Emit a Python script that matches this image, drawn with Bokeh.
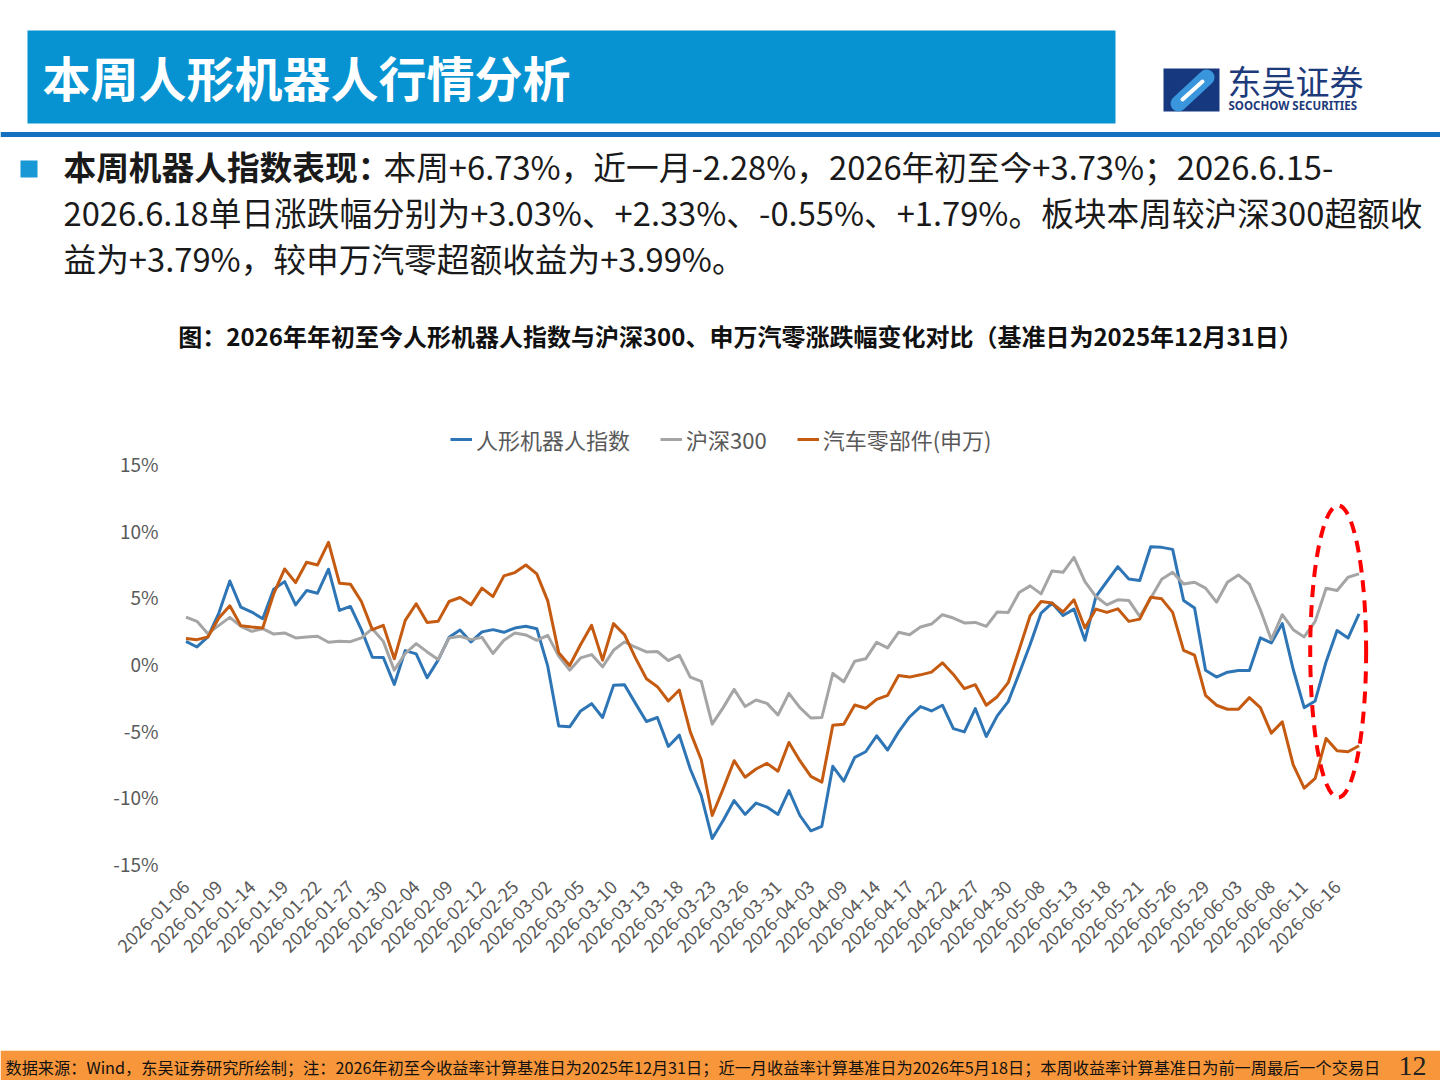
import math

from bokeh.plotting import figure
from bokeh.layouts import column
from bokeh.models import Range1d, FixedTicker, PrintfTickFormatter, Legend, LegendItem
from bokeh.core.properties import value
from bokeh.embed import file_html
from bokeh.resources import INLINE

CJK = "Noto Sans CJK SC"

# Trading days of 2026 shown on the category axis (month -> days)
trading_days = {
    1: [6, 7, 8, 9, 12, 13, 14, 15, 16, 19, 20, 21, 22, 23, 26, 27, 28, 29, 30],
    2: [2, 3, 4, 5, 6, 9, 10, 11, 12, 13, 24, 25, 26, 27],
    3: [2, 3, 4, 5, 6, 9, 10, 11, 12, 13, 16, 17, 18, 19, 20, 23, 24, 25, 26, 27, 30, 31],
    4: [1, 2, 3, 7, 8, 9, 10, 13, 14, 15, 16, 17, 20, 21, 22, 23, 24, 27, 28, 29, 30],
    5: [6, 7, 8, 11, 12, 13, 14, 15, 18, 19, 20, 21, 22, 25, 26, 27, 28, 29],
    6: [1, 2, 3, 4, 5, 8, 9, 10, 11, 12, 15, 16, 17, 18],
}
dates = [f"2026-{m:02d}-{d:02d}" for m, days in trading_days.items() for d in days]

# Cumulative change since 2025-12-31, in percent
robot_index = [
    1.66, 1.24, 1.99, 3.78, 6.19, 4.23, 3.86, 3.36, 5.57, 6.14,
    4.40, 5.47, 5.27, 7.07, 3.98, 4.28, 2.54, 0.47, 0.45, -1.57,
    0.97, 0.72, -1.07, 0.25, 1.96, 2.51, 1.62, 2.37, 2.54, 2.34,
    2.66, 2.79, 2.61, -0.20, -4.68, -4.75, -3.56, -3.01, -4.05, -1.64,
    -1.59, -2.99, -4.35, -4.05, -6.22, -5.37, -7.91, -9.90, -13.13, -11.77,
    -10.28, -11.32, -10.47, -10.77, -11.32, -9.53, -11.40, -12.55, -12.21, -7.71,
    -8.83, -7.04, -6.62, -5.42, -6.49, -5.13, -4.01, -3.23, -3.56, -3.13,
    -4.88, -5.13, -3.38, -5.47, -3.93, -2.86, -0.75, 1.42, 3.78, 4.53,
    3.60, 4.08, 1.74, 5.02, 6.15, 7.26, 6.34, 6.22, 8.76, 8.71,
    8.56, 4.73, 4.16, -0.50, -1.02, -0.65, -0.52, -0.52, 1.92, 1.54,
    2.99, -0.45, -3.31, -2.81, 0.14, 2.47, 1.91, 3.73,
]
hs300 = [
    3.48, 3.16, 2.24, 2.86, 3.46, 2.79, 2.41, 2.61, 2.21, 2.29,
    1.92, 1.99, 2.04, 1.59, 1.66, 1.64, 1.92, 2.61, 1.66, -0.50,
    0.75, 1.49, 0.87, 0.30, 1.92, 2.04, 1.79, 1.96, 0.75, 1.74,
    2.29, 2.14, 1.74, 2.11, 0.55, -0.50, 0.42, 0.67, -0.25, 0.99,
    1.62, 1.22, 0.87, 0.90, 0.22, 0.62, -1.02, -1.34, -4.55, -3.31,
    -1.94, -3.23, -2.74, -2.99, -3.86, -2.24, -3.31, -4.09, -4.05, -0.75,
    -1.37, 0.17, 0.35, 1.59, 1.17, 2.34, 2.16, 2.74, 2.96, 3.66,
    3.41, 3.04, 3.08, 2.79, 3.86, 3.83, 5.32, 5.82, 5.22, 6.94,
    6.84, 7.96, 6.14, 5.02, 4.40, 4.78, 4.73, 3.53, 4.90, 6.32,
    6.84, 5.97, 6.09, 5.65, 4.60, 6.09, 6.64, 5.95, 4.03, 1.79,
    3.66, 2.54, 1.99, 3.16, 5.65, 5.47, 6.47, 6.72,
]
auto_parts = [
    1.87, 1.79, 1.99, 3.41, 4.33, 2.84, 2.74, 2.66, 5.22, 7.09,
    6.07, 7.59, 7.39, 9.08, 6.02, 5.95, 4.65, 2.54, 2.86, 0.35,
    3.23, 4.48, 3.08, 3.16, 4.65, 4.95, 4.40, 5.65, 5.02, 6.57,
    6.82, 7.39, 6.72, 4.70, 0.80, -0.15, 1.42, 2.86, 0.25, 2.99,
    2.16, 0.42, -1.14, -1.74, -2.81, -1.99, -5.13, -7.22, -11.40, -9.40,
    -7.29, -8.53, -7.91, -7.49, -8.08, -5.92, -7.29, -8.47, -8.90, -4.63,
    -4.55, -3.11, -3.36, -2.69, -2.39, -0.90, -1.02, -0.85, -0.65, 0.05,
    -0.82, -1.89, -1.59, -3.13, -2.49, -1.44, 1.04, 3.58, 4.65, 4.53,
    3.86, 4.78, 2.66, 4.08, 3.83, 4.10, 3.16, 3.33, 4.97, 4.85,
    3.83, 0.99, 0.62, -2.39, -3.13, -3.43, -3.43, -2.56, -3.31, -5.22,
    -4.38, -7.61, -9.35, -8.61, -5.62, -6.54, -6.62, -6.17,
]
series_names = ["人形机器人指数", "沪深300", "汽车零部件(申万)"]
y_ticks = [-15, -10, -5, 0, 5, 10, 15]
label_step = 3

page_title = "本周人形机器人行情分析"
bullet_head = "本周机器人指数表现："
bullet_lines = [
    "本周+6.73%，近一月-2.28%，2026年初至今+3.73%；2026.6.15-",
    "2026.6.18单日涨跌幅分别为+3.03%、+2.33%、-0.55%、+1.79%。板块本周较沪深300超额收",
    "益为+3.79%，较申万汽零超额收益为+3.99%。",
]
chart_title = "图：2026年年初至今人形机器人指数与沪深300、申万汽零涨跌幅变化对比（基准日为2025年12月31日）"
footnote = ("数据来源：Wind，东吴证券研究所绘制；注：2026年初至今收益率计算基准日为2025年12月31日；"
            "近一月收益率计算基准日为2026年5月18日；本周收益率计算基准日为前一周最后一个交易日")
page_no = "12"


def canvas(h):
    f = figure(width=1440, height=h, x_range=Range1d(0, 1440), y_range=Range1d(h, 0),
               toolbar_location=None, output_backend="svg", x_axis_type=None, y_axis_type=None,
               min_border=0, outline_line_color=None, title=None, frame_align=False)
    f.xgrid.visible = False
    f.ygrid.visible = False
    return f


def put_text(f, x, y, s, size, color, bold=False, font=CJK, align="left"):
    f.text(x=[x], y=[y], text=[s], text_font=value(font), text_font_size=size,
           text_font_style="bold" if bold else "normal", text_color=color,
           text_align=align, text_baseline="middle")


# ---- header: banner, logo, summary paragraph, chart caption ----
top = canvas(365)
top.quad(left=[27], right=[1115], top=[30], bottom=[123], fill_color="#0793D2", line_color=None)
put_text(top, 42, 75, page_title, "48px", "#FFFFFF", bold=True)

# logo mark
top.quad(left=[1163], right=[1219], top=[68], bottom=[111], fill_color="#16387E", line_color=None)
top.line([1178, 1206], [103, 77], line_color="#3A96DC", line_width=16, line_cap="round")
top.line([1182, 1202], [99, 81], line_color="#FFFFFF", line_width=4, line_cap="round")
put_text(top, 1227, 80, "东吴证券", "34px", "#1D3A7A")
put_text(top, 1228, 105, "SOOCHOW SECURITIES", "11.5px", "#1D3A7A", bold=True, font="Noto Sans")

top.quad(left=[0], right=[1440], top=[131.5], bottom=[136.5], fill_color="#1570BF", line_color=None)

top.quad(left=[20], right=[37], top=[160], bottom=[177], fill_color="#1898D5", line_color=None)
put_text(top, 63, 165, bullet_head, "32.7px", "#1A1A1A", bold=True)
put_text(top, 383, 165, bullet_lines[0], "32.7px", "#1A1A1A")
put_text(top, 63, 211, bullet_lines[1], "32.7px", "#1A1A1A")
put_text(top, 63, 257, bullet_lines[2], "32.7px", "#1A1A1A")

put_text(top, 740, 335, chart_title, "24px", "#111111", bold=True, align="center")

# ---- line chart ----
xs = list(range(len(dates)))
pc = figure(width=1440, height=685, x_range=Range1d(-0.5, len(dates) + 0.96),
            y_range=Range1d(-15, 20.1), toolbar_location=None, output_backend="svg",
            min_border_left=180, min_border_right=60, min_border_top=30, min_border_bottom=187,
            outline_line_color=None, title=None, frame_align=False)
pc.xgrid.visible = False
pc.ygrid.visible = False

r_robot = pc.line(xs, robot_index, line_color="#2E75B6", line_width=3, line_join="round")
r_hs = pc.line(xs, hs300, line_color="#A5A5A5", line_width=3, line_join="round")
r_auto = pc.line(xs, auto_parts, line_color="#C55A11", line_width=3, line_join="round")

# highlight of the latest week
pc.ellipse(x=[105.1], y=[0.9], width=[5.1], height=[21.9], fill_color=None,
           line_color="#FF0000", line_width=4, line_dash="12 8")

label_ticks = list(range(0, len(dates), label_step))
xa = pc.xaxis[0]
xa.ticker = FixedTicker(ticks=label_ticks)
xa.major_label_overrides = {i: dates[i] for i in label_ticks}
xa.major_label_orientation = math.pi / 4
xa.major_label_standoff = 20

ya = pc.yaxis[0]
ya.ticker = FixedTicker(ticks=y_ticks)
ya.formatter = PrintfTickFormatter(format="%d%%")
ya.major_label_standoff = 22

for ax, size in ((xa, "18px"), (ya, "19px")):
    ax.axis_line_color = None
    ax.major_tick_line_color = None
    ax.minor_tick_line_color = None
    ax.major_tick_out = 0
    ax.major_tick_in = 0
    ax.major_label_text_color = "#595959"
    ax.major_label_text_font = CJK
    ax.major_label_text_font_size = size

legend = Legend(
    items=[LegendItem(label=series_names[0], renderers=[r_robot]),
           LegendItem(label=series_names[1], renderers=[r_hs]),
           LegendItem(label=series_names[2], renderers=[r_auto])],
    orientation="horizontal", location=(270, 408), margin=0, padding=4, spacing=30,
    glyph_width=22, glyph_height=20, label_standoff=4,
    label_text_font=CJK, label_text_font_size="22px", label_text_color="#595959",
    border_line_color=None, background_fill_alpha=0,
)
pc.add_layout(legend)

# ---- footer band ----
foot = canvas(30)
foot.quad(left=[0], right=[1440], top=[0], bottom=[30], fill_color="#F7963A", line_color=None)
put_text(foot, 5, 16, footnote, "16.2px", "#111111")
put_text(foot, 1398, 15, page_no, "28px", "#222222", font="Liberation Serif")

page = column(top, pc, foot, spacing=0)
open("out.html", "w").write(file_html(page, INLINE, title="人形机器人行情分析"))
